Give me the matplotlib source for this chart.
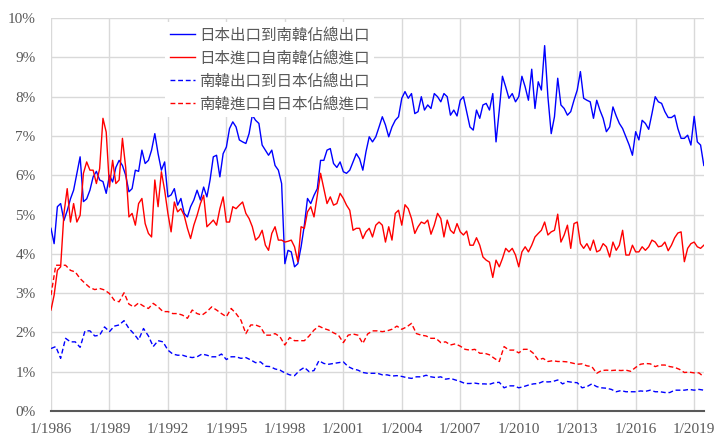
import numpy as np
import pandas as pd
import matplotlib
matplotlib.use('Agg')
import matplotlib.pyplot as plt
import matplotlib.dates as mdates
from matplotlib.ticker import FuncFormatter

# share of bilateral trade in total trade (%)
# solid series sampled every 2 months, dashed ones every 3 months
jp_exp_to_kr = [4.65, 4.26, 5.2, 5.28, 4.85, 5.1, 5.4, 5.62, 6.05, 6.47, 5.33, 5.4, 5.62, 5.96, 6.1, 5.88, 5.84,
                5.54, 6.0, 5.83, 6.2, 6.38, 6.25, 6.0, 5.58, 5.66, 6.13, 6.1, 6.64, 6.3, 6.38, 6.64, 7.06, 6.55,
                6.13, 6.34, 5.45, 5.5, 5.66, 5.24, 5.41, 5.03, 4.94, 5.2, 5.37, 5.62, 5.37, 5.7, 5.45, 5.88, 6.47,
                6.51, 5.96, 6.55, 6.72, 7.19, 7.36, 7.23, 6.9, 6.85, 6.81, 7.06, 7.53, 7.4, 7.32, 6.77, 6.64,
                6.51, 6.64, 6.25, 6.13, 5.79, 3.75, 4.09, 4.05, 3.67, 3.75, 4.18, 4.73, 5.41, 5.28, 5.49, 5.66,
                6.38, 6.38, 6.64, 6.68, 6.3, 6.2, 6.34, 6.09, 6.05, 6.13, 6.34, 6.55, 6.42, 6.13, 6.6, 6.98, 6.85,
                6.98, 7.23, 7.49, 7.28, 6.98, 7.23, 7.4, 7.49, 7.96, 8.13, 7.96, 8.08, 7.57, 7.62, 8.0, 7.66, 7.79,
                7.7, 8.08, 8.0, 7.87, 8.08, 8.0, 7.53, 7.66, 7.51, 7.91, 8.0, 7.62, 7.23, 7.15, 7.66, 7.45, 7.79,
                7.83, 7.66, 8.08, 6.85, 7.66, 8.52, 8.25, 7.96, 8.08, 7.87, 8.0, 8.52, 8.25, 7.91, 8.7, 7.7, 8.38,
                8.17, 9.3, 8.0, 7.06, 7.49, 8.47, 7.79, 7.7, 7.53, 7.62, 7.91, 8.17, 8.64, 7.96, 7.91, 7.87, 7.45,
                7.91, 7.66, 7.45, 7.11, 7.23, 7.74, 7.51, 7.32, 7.19, 6.98, 6.77, 6.51, 7.11, 6.9, 7.4, 7.32, 7.17,
                7.57, 8.0, 7.87, 7.83, 7.62, 7.47, 7.47, 7.53, 7.19, 6.94, 6.94, 7.02, 6.77, 7.5, 6.85, 6.77, 6.25]

jp_imp_from_kr = [2.57, 2.95, 3.58, 3.67, 5.03, 5.66, 4.81, 5.28, 4.81, 4.98, 6.05, 6.34, 6.13, 6.13, 5.79, 6.17,
                  7.45, 7.1, 5.7, 6.38, 5.79, 5.88, 6.94, 6.2, 4.94, 5.03, 4.73, 5.28, 5.41, 4.77, 4.52, 4.43, 5.88,
                  5.2, 6.09, 5.62, 5.03, 4.56, 5.32, 5.07, 5.15, 4.98, 4.65, 4.39, 4.73, 4.98, 5.28, 5.49, 4.69,
                  4.77, 4.86, 4.73, 5.15, 5.45, 4.81, 4.81, 5.2, 5.15, 5.24, 5.32, 5.03, 4.9, 4.69, 4.35, 4.43, 4.6,
                  4.22, 4.09, 4.52, 4.69, 4.35, 4.35, 4.3, 4.32, 4.35, 4.18, 3.8, 4.69, 4.65, 5.07, 5.2, 4.94, 5.49,
                  6.05, 5.66, 5.28, 5.45, 5.24, 5.28, 5.54, 5.41, 5.24, 5.11, 4.6, 4.65, 4.65, 4.39, 4.56, 4.65,
                  4.43, 4.73, 4.81, 4.73, 4.3, 4.69, 4.35, 5.03, 5.11, 4.73, 5.25, 5.15, 4.9, 4.52, 4.69, 4.81,
                  4.77, 4.86, 4.5, 4.73, 5.03, 4.9, 4.43, 4.86, 4.6, 4.52, 4.77, 4.56, 4.48, 4.58, 4.22, 4.22, 4.41,
                  4.22, 3.92, 3.84, 3.79, 3.4, 3.84, 3.67, 3.88, 4.14, 4.05, 4.14, 3.97, 3.67, 4.05, 4.18, 4.05,
                  4.22, 4.43, 4.52, 4.6, 4.81, 4.48, 4.56, 4.6, 5.01, 4.3, 4.48, 4.73, 4.14, 4.77, 4.81, 4.26, 4.14,
                  4.26, 4.09, 4.35, 4.05, 4.09, 4.26, 4.18, 3.92, 4.3, 4.09, 4.22, 4.6, 3.97, 3.97, 4.22, 4.05,
                  4.05, 4.18, 4.09, 4.18, 4.35, 4.3, 4.18, 4.2, 4.3, 4.08, 4.22, 4.41, 4.53, 4.56, 3.8, 4.14, 4.26,
                  4.3, 4.18, 4.14, 4.22]

kr_exp_to_jp = [1.59, 1.64, 1.34, 1.85, 1.76, 1.76, 1.62, 2.04, 2.04, 1.91, 1.93, 2.14, 2.02, 2.16, 2.19, 2.3, 2.1,
                1.97, 1.81, 2.1, 1.91, 1.64, 1.79, 1.76, 1.55, 1.45, 1.42, 1.42, 1.38, 1.36, 1.38, 1.45, 1.42,
                1.38, 1.38, 1.45, 1.31, 1.38, 1.38, 1.34, 1.36, 1.3, 1.23, 1.25, 1.14, 1.13, 1.07, 1.04, 0.97,
                0.92, 0.9, 1.03, 1.11, 1.0, 1.03, 1.28, 1.21, 1.19, 1.21, 1.23, 1.25, 1.13, 1.07, 1.04, 0.98, 0.96,
                0.96, 0.96, 0.92, 0.92, 0.89, 0.9, 0.88, 0.85, 0.83, 0.87, 0.87, 0.91, 0.87, 0.85, 0.87, 0.81,
                0.83, 0.79, 0.75, 0.7, 0.7, 0.71, 0.69, 0.69, 0.68, 0.72, 0.73, 0.59, 0.64, 0.64, 0.59, 0.62, 0.66,
                0.69, 0.7, 0.75, 0.74, 0.75, 0.79, 0.69, 0.75, 0.73, 0.72, 0.59, 0.62, 0.69, 0.62, 0.59, 0.58,
                0.55, 0.49, 0.52, 0.49, 0.49, 0.49, 0.51, 0.5, 0.53, 0.49, 0.49, 0.47, 0.47, 0.53, 0.53, 0.53,
                0.55, 0.53, 0.55, 0.53]

kr_imp_from_jp = [2.95, 3.71, 3.71, 3.71, 3.58, 3.54, 3.37, 3.25, 3.14, 3.09, 3.12, 3.08, 2.99, 2.82, 2.78, 3.01,
                  2.72, 2.65, 2.75, 2.67, 2.61, 2.74, 2.65, 2.53, 2.53, 2.48, 2.48, 2.44, 2.36, 2.57, 2.48, 2.44,
                  2.53, 2.65, 2.57, 2.48, 2.4, 2.61, 2.48, 2.31, 1.97, 2.19, 2.19, 2.14, 1.93, 1.93, 1.97, 1.89,
                  1.68, 1.87, 1.79, 1.79, 1.79, 1.91, 2.06, 2.16, 2.1, 2.06, 1.99, 1.93, 1.74, 1.93, 1.96, 1.93,
                  1.72, 1.96, 2.04, 2.04, 2.02, 2.04, 2.08, 2.16, 2.08, 2.14, 2.23, 1.97, 1.93, 1.91, 1.85, 1.85,
                  1.74, 1.76, 1.68, 1.71, 1.65, 1.57, 1.55, 1.57, 1.47, 1.47, 1.43, 1.34, 1.26, 1.64, 1.55, 1.55,
                  1.48, 1.57, 1.57, 1.47, 1.3, 1.34, 1.26, 1.28, 1.26, 1.26, 1.25, 1.22, 1.19, 1.2, 1.15, 1.13,
                  0.96, 1.03, 1.04, 1.03, 1.04, 1.03, 1.04, 1.01, 1.11, 1.19, 1.21, 1.2, 1.13, 1.17, 1.17, 1.13,
                  1.11, 1.06, 0.98, 0.99, 0.97, 0.97, 0.87]

labels = ['日本出口到南韓佔總出口', '日本進口自南韓佔總進口',
          '南韓出口到日本佔總出口', '南韓進口自日本佔總進口']

t2 = pd.date_range('1986-01-01', periods=len(jp_exp_to_kr), freq='2MS')
t3 = pd.date_range('1986-01-01', periods=len(kr_exp_to_jp), freq='3MS')

grey = '#595959'
fig = plt.figure(figsize=(7.19, 4.37), dpi=100)
ax = fig.add_axes([0.0709, 0.0595, 0.908, 0.899])

ax.plot(t2, jp_exp_to_kr, color='#0000ff', lw=1.0, label=labels[0])
ax.plot(t2, jp_imp_from_kr, color='#ff0000', lw=1.0, label=labels[1])
ax.plot(t3, kr_exp_to_jp, color='#0000ff', lw=1.0, ls=(0, (3.5, 2)), label=labels[2])
ax.plot(t3, kr_imp_from_jp, color='#ff0000', lw=1.0, ls=(0, (3.5, 2)), label=labels[3])

# axes
ax.set_xlim(t2[0], t2[-1])
ax.set_ylim(0, 10)
ax.set_yticks(np.arange(0, 11, 1))
ax.yaxis.set_major_formatter(FuncFormatter(lambda v, p: f'{v:.0f}%'))
ax.xaxis.set_major_locator(mdates.YearLocator(3, month=1, day=1))
ax.xaxis.set_major_formatter(FuncFormatter(
    lambda v, p: f'{mdates.num2date(v).month}/{mdates.num2date(v).year}'))

ax.grid(True, color='#d9d9d9', lw=1.0)
ax.set_axisbelow(True)
for s in ['top', 'right', 'left']:
    ax.spines[s].set_visible(False)
ax.spines['bottom'].set_color(grey)
ax.spines['bottom'].set_linewidth(1.5)
ax.tick_params(length=0, labelsize=11, colors=grey)
ax.tick_params(axis='y', pad=11)
ax.tick_params(axis='x', pad=9)
for lab in ax.get_xticklabels() + ax.get_yticklabels():
    lab.set_fontfamily('Liberation Serif')

# legend box sits over the grid, no frame line
leg = ax.legend(loc='upper left', bbox_to_anchor=(0.1746, 0.99), borderaxespad=0,
                frameon=True, fancybox=False, framealpha=1, facecolor='white',
                edgecolor='none', handlelength=1.6, handletextpad=0.3,
                labelspacing=0.38, borderpad=0.3,
                prop={'family': ['Noto Sans CJK TC', 'DejaVu Sans'], 'size': 11.2})
for txt in leg.get_texts():
    txt.set_color(grey)

plt.savefig('out.png', dpi=100)
